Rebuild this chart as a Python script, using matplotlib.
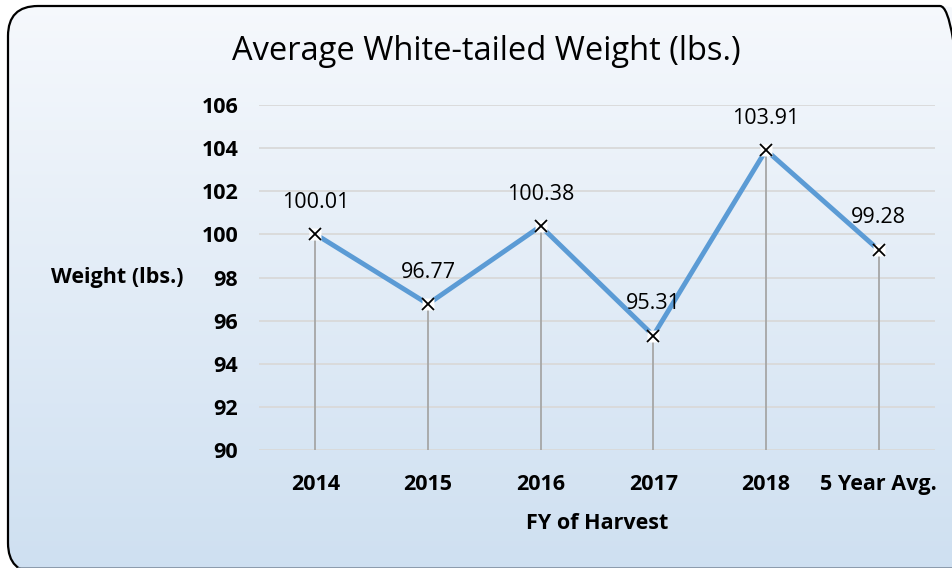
import numpy as np
import matplotlib.pyplot as plt
from matplotlib.patches import FancyBboxPatch

categories = ['2014', '2015', '2016', '2017', '2018', '5 Year Avg.']
weights = [100.01, 96.77, 100.38, 95.31, 103.91, 99.28]
yticks = [90, 92, 94, 96, 98, 100, 102, 104, 106]

plt.rcParams['font.family'] = ['Open Sans', 'DejaVu Sans']

W, H = 953, 568
fig = plt.figure(figsize=(W / 100, H / 100), dpi=100)

# background axes in pixel units: rounded frame with vertical gradient
bg = fig.add_axes([0, 0, 1, 1], zorder=-1)
bg.set_xlim(0, W)
bg.set_ylim(0, H)
bg.axis('off')
frame = FancyBboxPatch((8, -5), 962, 567, boxstyle='round,pad=0,rounding_size=30',
                       facecolor='none', edgecolor='black', lw=1.6, zorder=2)
bg.add_patch(frame)
grad = np.linspace(0, 1, 256).reshape(-1, 1)
c_top = np.array([0.965, 0.975, 0.99])
c_bot = np.array([0.81, 0.878, 0.945])
img = c_top + (c_bot - c_top) * grad[:, :, None]
im = bg.imshow(img, extent=[0, W, 0, H], aspect='auto')
im.set_clip_path(frame)
edge = bg.axhline(0.5, color='#7f8fa0', lw=1.2, zorder=3)
edge.set_clip_path(frame)

ax = fig.add_axes([259 / W, 1 - 450 / H, 676 / W, 345 / H])
ax.set_facecolor('none')
x = np.arange(len(categories))
ax.set_xlim(-0.5, len(categories) - 0.5)
ax.set_ylim(90, 106)
ax.set_yticks(yticks)
ax.yaxis.grid(True, color='#d9d9d9', lw=1.3)
ax.set_axisbelow(True)
for s in ax.spines.values():
    s.set_visible(False)
ax.tick_params(length=0, labelsize=15.5)
ax.tick_params(axis='y', pad=15)
ax.tick_params(axis='x', pad=17)
ax.set_xticks(x, categories)
for lbl in ax.get_xticklabels() + ax.get_yticklabels():
    lbl.set_fontweight('bold')

ax.vlines(x, 90, weights, color='#a6a6a6', lw=1.3, zorder=2)
ax.plot(x, weights, color='#5b9bd5', lw=3.5, zorder=3)
ax.plot(x, weights, ls='none', marker='s', ms=8, mfc='white', mec='none', zorder=4)
ax.plot(x, weights, ls='none', marker='x', ms=8, mew=1.3, color='black', zorder=5)
for xi, w in zip(x, weights):
    ax.annotate(f'{w:.2f}', (xi, w), xytext=(0, 23), textcoords='offset points',
                ha='center', va='center', fontsize=15.5)

ax.set_xlabel('FY of Harvest', fontsize=15.5, fontweight='bold', labelpad=13)
fig.text(117 / W, 1 - 278 / H, 'Weight (lbs.)', fontsize=15.5, fontweight='bold',
         ha='center', va='center')
fig.text(486 / W, 1 - 52 / H, 'Average White-tailed Weight (lbs.)', fontsize=23.5,
         ha='center', va='center')

fig.savefig('out.png', dpi=100)
